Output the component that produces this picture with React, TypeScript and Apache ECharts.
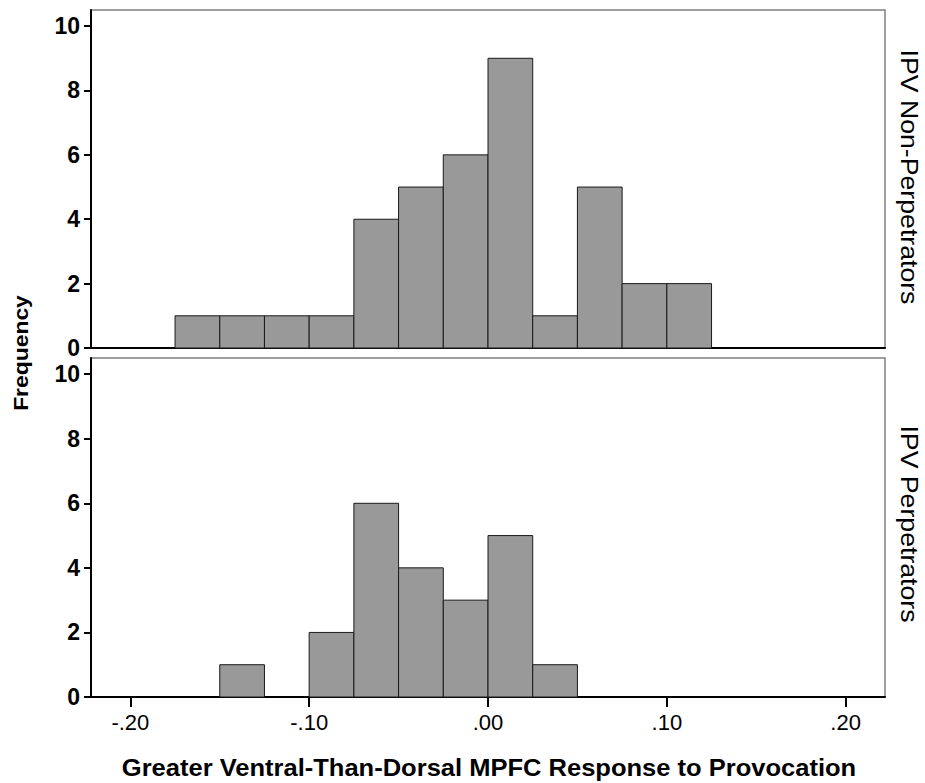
import React, { useEffect, useRef } from "react";
import * as echarts from "echarts";

const BIN_WIDTH = 0.025;
const nonPerpBinStarts = [-0.175, -0.15, -0.125, -0.1, -0.075, -0.05, -0.025, 0, 0.025, 0.05, 0.075, 0.1];
const nonPerpCounts = [1, 1, 1, 1, 4, 5, 6, 9, 1, 5, 2, 2];
const perpBinStarts = [-0.15, -0.125, -0.1, -0.075, -0.05, -0.025, 0, 0.025];
const perpCounts = [1, 0, 2, 6, 4, 3, 5, 1];
const xTicks = [-0.2, -0.1, 0, 0.1, 0.2];
const yTicks = [0, 2, 4, 6, 8, 10];
const panelLabels = ["IPV Non-Perpetrators", "IPV Perpetrators"];
const xTitle = "Greater Ventral-Than-Dorsal MPFC Response to Provocation";
const yTitle = "Frequency";

const FONT = "'Liberation Sans', Arial, sans-serif";

function fmtX(v: number) {
  const s = Math.abs(v).toFixed(2).replace(/^0/, "");
  return (v < -1e-9 ? "-" : "") + s;
}

function toData(starts: number[], counts: number[]) {
  return starts
    .map((s, i) => [s, s + BIN_WIDTH, counts[i]])
    .filter((d) => d[2] > 0);
}

const renderItem = (params: any, api: any) => {
  const x0 = api.value(0);
  const x1 = api.value(1);
  const c = api.value(2);
  const p0 = api.coord([x0, c]);
  const p1 = api.coord([x1, 0]);
  return {
    type: "rect",
    shape: { x: p0[0], y: p0[1], width: p1[0] - p0[0], height: p1[1] - p0[1] },
    style: { fill: "#999999", stroke: "#1a1a1a", lineWidth: 1 },
  };
};

export default function App() {
  const ref = useRef<HTMLDivElement>(null);
  useEffect(() => {
    if (!ref.current) return;
    const chart = echarts.init(ref.current, undefined, { renderer: "svg" });
    const xAxisBase = (gridIndex: number, showLabels: boolean) => ({
      type: "value",
      gridIndex,
      min: -0.222,
      max: 0.222,
      axisLine: { show: true, onZero: false, lineStyle: { color: "#000", width: 2 } },
      axisTick: {
        show: showLabels,
        customValues: xTicks,
        length: 10,
        lineStyle: { color: "#000", width: 2 },
      },
      axisLabel: {
        show: showLabels,
        customValues: xTicks,
        formatter: (v: number) => fmtX(v),
        color: "#000",
        fontSize: 22,
        fontFamily: FONT,
        margin: 14,
      },
      splitLine: { show: false },
    });
    const yAxisBase = (gridIndex: number) => ({
      type: "value",
      gridIndex,
      min: 0,
      max: 10.5,
      axisLine: { show: true, onZero: false, lineStyle: { color: "#000", width: 2 } },
      axisTick: { show: true, customValues: yTicks, length: 7, lineStyle: { color: "#000", width: 2 } },
      axisLabel: {
        customValues: yTicks,
        color: "#000",
        fontSize: 23,
        fontWeight: "bold",
        fontFamily: FONT,
        margin: 11,
      },
      splitLine: { show: false },
    });
    chart.setOption({
      animation: false,
      backgroundColor: "#fff",
      grid: [
        { left: 91, right: 40, top: 10, height: 338, show: true, borderColor: "#808080", borderWidth: 1.5, backgroundColor: "#fff" },
        { left: 91, right: 40, top: 358, height: 339, show: true, borderColor: "#808080", borderWidth: 1.5, backgroundColor: "#fff" },
      ],
      xAxis: [xAxisBase(0, false), xAxisBase(1, true)],
      yAxis: [yAxisBase(0), yAxisBase(1)],
      series: [
        { type: "custom", xAxisIndex: 0, yAxisIndex: 0, renderItem, data: toData(nonPerpBinStarts, nonPerpCounts), encode: { x: [0, 1], y: 2 } },
        { type: "custom", xAxisIndex: 1, yAxisIndex: 1, renderItem, data: toData(perpBinStarts, perpCounts), encode: { x: [0, 1], y: 2 } },
      ],
      graphic: [
        {
          type: "text",
          x: 489,
          y: 768,
          scaleX: 1.11,
          style: { text: xTitle, fontSize: 23, fontWeight: "bold", fontFamily: FONT, fill: "#000", align: "center", verticalAlign: "middle" },
        },
        {
          type: "text",
          x: 21,
          y: 353,
          rotation: Math.PI / 2,
          scaleX: 1.09,
          style: { text: yTitle, fontSize: 21, fontWeight: "bold", fontFamily: FONT, fill: "#000", align: "center", verticalAlign: "middle" },
        },
        {
          type: "text",
          x: 909,
          y: 177,
          rotation: -Math.PI / 2,
          scaleX: 1.16,
          style: { text: panelLabels[0], fontSize: 23, fontFamily: FONT, fill: "#000", align: "center", verticalAlign: "middle" },
        },
        {
          type: "text",
          x: 909,
          y: 524,
          rotation: -Math.PI / 2,
          scaleX: 1.16,
          style: { text: panelLabels[1], fontSize: 23, fontFamily: FONT, fill: "#000", align: "center", verticalAlign: "middle" },
        },
      ],
    });
    return () => chart.dispose();
  }, []);
  return <div ref={ref} style={{ position: "fixed", left: 0, top: 0, width: 925, height: 783 }} />;
}
